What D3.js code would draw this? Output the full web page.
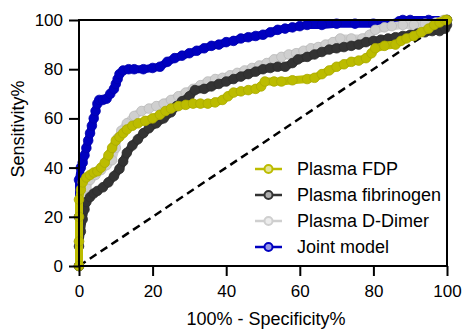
<!DOCTYPE html>
<html>
<head>
<meta charset="utf-8">
<script src="https://cdn.jsdelivr.net/npm/d3@7"></script>
<style>
  body { margin: 0; background: #fff; }
  svg text { font-family: "Liberation Sans", Arial, sans-serif; fill: #000; }
</style>
</head>
<body>
<div id="chart"></div>
<script>
// ROC data: x = 100% - specificity, y = sensitivity
const fdpFpr = [0, 0, 0, 0, 0.5, 1, 2, 3, 4, 5, 6, 7, 8, 9, 10, 11, 12, 13, 14.5, 16, 18, 20, 22, 23.5, 25, 27, 29, 31, 33, 35, 37, 39, 40.5, 42, 44, 46, 48, 49.5, 50.5, 53, 55, 58, 62, 64, 66, 68, 70, 72, 74, 76, 78, 79.5, 80.5, 83, 86, 87.5, 89, 91, 93, 95, 96.5, 98, 99.5, 100];
const fdpSens = [0, 10, 20, 27, 31, 34, 36, 37, 38, 38.5, 40, 42, 45, 48, 51, 52.5, 54, 55.5, 57, 58, 59, 60, 61.5, 63, 64, 65, 65.5, 66, 66, 66, 66.5, 67.5, 69, 70.5, 71, 71.5, 72, 73, 75, 75, 75, 75.5, 76, 76.5, 78, 79.5, 81, 82, 83, 83.5, 84.5, 86.5, 88.5, 89.5, 90, 91.5, 92.5, 93.5, 95, 96.5, 98, 99, 100, 100];

const fibFpr = [0, 0, 0.5, 1, 1.5, 2, 3, 4, 5, 6.5, 8, 9.5, 11, 12, 13, 14.5, 16, 17.5, 19, 21, 23, 25, 26.5, 28, 30, 31.5, 34, 36, 38, 40, 42, 44, 46, 48, 50, 52, 54, 56, 58, 59.5, 62, 64, 66, 68, 70, 72, 74, 76, 78, 80, 82, 84, 86, 88, 90, 92, 94, 96, 98, 99.5, 100, 100];
const fibSens = [0, 8, 14, 19, 23, 26, 28, 29.5, 30.5, 32, 34, 36.5, 39.5, 42.5, 46, 49, 51.5, 54, 56, 58, 60, 62.5, 65, 67, 69, 71.5, 72, 73, 74, 75, 76, 77, 78, 79, 80, 80.5, 81, 81, 82.5, 84, 85, 86, 87, 88, 88.5, 89, 89.5, 90, 91, 91.5, 92, 92.5, 93, 93.5, 94, 94.5, 95, 95.5, 95.5, 96.5, 98, 100];

const ddFpr = [0, 0, 0.5, 1, 2, 3, 4.5, 6, 7.5, 9, 10, 10.5, 11.5, 13, 15, 17, 19, 21, 23, 25, 27, 29, 31, 33, 35, 37, 39, 41, 43, 45, 47, 49, 51, 53, 55, 57, 59, 61, 63, 65, 67, 69, 71, 74, 77, 79, 80.5, 83, 85, 88, 91, 94, 97, 99, 100];
const ddSens = [0, 10, 20, 28, 32, 35, 37, 39, 41, 43, 48, 52, 55, 58, 61, 63, 64, 65, 66, 67.5, 69, 70.5, 72, 73.5, 75, 76, 76.5, 77.5, 78.5, 79.5, 80.5, 81.5, 82.5, 84, 85, 86, 86.5, 87.5, 88.5, 89, 90, 91, 92.5, 92.5, 92.5, 94, 96, 97, 97.5, 98, 98, 98.5, 99, 100, 100];

const jointFpr = [0, 0, 0, 0.5, 1, 1.5, 2, 2.5, 3, 3.5, 4, 4.5, 5, 5.5, 6.5, 7.5, 8.5, 9.5, 10, 10.5, 11, 12, 13.5, 15, 17.5, 20, 22, 24, 26, 28, 30, 32, 34, 36, 38, 40, 42, 44, 46, 48, 50, 52, 54, 56, 58, 60, 62, 66, 70, 75, 80, 86, 87, 88, 90, 95, 100];
const jointSens = [0, 20, 35, 40, 42, 45, 48, 51, 54, 57, 60, 63, 66, 67.5, 67.5, 68, 70, 72, 74, 76, 78, 79.5, 80, 80, 80, 80.5, 81, 83, 84.5, 85.5, 86.5, 87.5, 88.5, 89.5, 90, 91, 91.5, 92.5, 93, 93.5, 94, 95, 96, 96.5, 97, 97.5, 98, 98, 98.5, 98.5, 98.5, 98.5, 99.5, 100, 100, 100, 100];

const seriesNames = ["Plasma FDP", "Plasma fibrinogen", "Plasma D-Dimer", "Joint model"];
const seriesColors = ["#bcbc00", "#333333", "#cfcfcf", "#0000c0"];
const xTicks = [0, 20, 40, 60, 80, 100];
const yTicks = [0, 20, 40, 60, 80, 100];

const series = [
  { name: seriesNames[0], color: seriesColors[0], xs: fdpFpr, ys: fdpSens },
  { name: seriesNames[1], color: seriesColors[1], xs: fibFpr, ys: fibSens },
  { name: seriesNames[2], color: seriesColors[2], xs: ddFpr, ys: ddSens },
  { name: seriesNames[3], color: seriesColors[3], xs: jointFpr, ys: jointSens }
].map((s) => ({ ...s, points: s.xs.map((x, i) => [x, s.ys[i]]) }));

const W = 465, H = 329;
const margin = { top: 20, right: 18, bottom: 63, left: 79 };
const width = W - margin.left - margin.right,
  height = H - margin.top - margin.bottom;

const svg = d3.select("#chart").append("svg").attr("width", W).attr("height", H);
const g = svg.append("g").attr("transform", `translate(${margin.left},${margin.top})`);

const x = d3.scaleLinear().domain([0, 100]).range([0, width]);
const y = d3.scaleLinear().domain([0, 100]).range([height, 0]);

// reference diagonal
g.append("line")
  .attr("x1", x(0)).attr("y1", y(0))
  .attr("x2", x(100)).attr("y2", y(100))
  .attr("stroke", "#000")
  .attr("stroke-width", 2.5)
  .attr("stroke-dasharray", "8,5");

const line = d3.line().x((d) => x(d[0])).y((d) => y(d[1]));

// draw Joint first, FDP last (FDP sits on top)
series.slice().reverse().forEach((s) => {
  const sg = g.append("g");
  sg.append("path")
    .datum(s.points)
    .attr("fill", "none")
    .attr("stroke", s.color)
    .attr("stroke-width", 8)
    .attr("stroke-linejoin", "round")
    .attr("d", line);
  sg.selectAll("circle")
    .data(s.points)
    .enter()
    .append("circle")
    .attr("cx", (d) => x(d[0]))
    .attr("cy", (d) => y(d[1]))
    .attr("r", 4.8)
    .attr("fill", s.color)
    .attr("stroke", d3.color(s.color).darker(0.3))
    .attr("stroke-width", 0.8);
});

// frame
g.append("rect")
  .attr("width", width).attr("height", height)
  .attr("fill", "none").attr("stroke", "#000").attr("stroke-width", 2);

const xAxis = g.append("g")
  .attr("transform", `translate(0,${height})`)
  .call(d3.axisBottom(x).tickValues(xTicks).tickSize(10).tickPadding(9));
const yAxis = g.append("g")
  .call(d3.axisLeft(y).tickValues(yTicks).tickSize(10).tickPadding(6));
[xAxis, yAxis].forEach((a) => {
  a.select(".domain").remove();
  a.selectAll("line").attr("stroke", "#000").attr("stroke-width", 2);
  a.selectAll("text").style("font-size", "17px").attr("fill", "#000");
});

// axis titles
svg.append("text")
  .attr("x", margin.left + width / 2 + 3)
  .attr("y", 325)
  .attr("text-anchor", "middle")
  .style("font-size", "18px")
  .text("100% - Specificity%");
svg.append("text")
  .attr("transform", "translate(24,129) rotate(-90)")
  .attr("text-anchor", "middle")
  .style("font-size", "18px")
  .text("Sensitivity%");

// legend
const legend = svg.append("g").attr("transform", "translate(255,169)");
const rows = legend.selectAll("g")
  .data(series)
  .enter()
  .append("g")
  .attr("transform", (d, i) => `translate(0,${i * 26})`);
rows.append("line")
  .attr("x1", 0).attr("x2", 27)
  .attr("stroke", (d) => d.color)
  .attr("stroke-width", 2.5);
rows.append("circle")
  .attr("cx", 13.5).attr("r", 4)
  .attr("fill", (d) => d3.interpolateRgb(d.color, "#fff")(0.6))
  .attr("stroke", (d) => d.color)
  .attr("stroke-width", 2);
rows.append("text")
  .attr("x", 42)
  .attr("dy", "0.36em")
  .style("font-size", "18px")
  .text((d) => d.name);
</script>
</body>
</html>
